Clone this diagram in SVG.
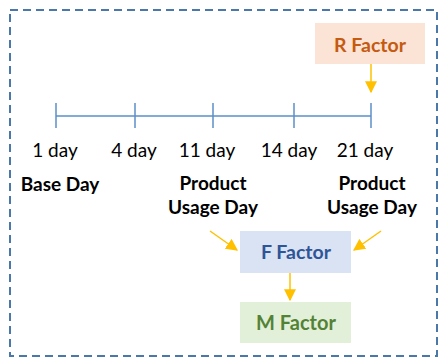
<svg xmlns="http://www.w3.org/2000/svg" width="438" height="358" viewBox="0 0 438 358">
<defs>
<style>
.t{font-family:Lato,"Liberation Sans",Arial,sans-serif;font-size:19px;fill:#000;text-anchor:middle}
.b{font-weight:bold}
.tl{stroke:#5b8fc7;stroke-width:1.5;fill:none}
.ar{stroke:#ffc000;stroke-width:1.5;fill:none;marker-end:url(#ah)}
.f{font-family:Lato,"Liberation Sans",Arial,sans-serif;font-size:19.5px;font-weight:bold;text-anchor:middle}
</style>
<marker id="ah" viewBox="0 0 10 10" refX="9" refY="5" markerWidth="12" markerHeight="12" markerUnits="userSpaceOnUse" orient="auto">
<path d="M0,0 L10,5 L0,10 z" fill="#ffc000"/>
</marker>
</defs>
<rect x="10" y="10" width="427" height="346" fill="none" stroke="#4a78a8" stroke-width="2" stroke-dasharray="8,5"/>
<g id="timeline">
<line class="tl" x1="56" y1="116" x2="371" y2="116"/>
<line class="tl" x1="56" y1="103" x2="56" y2="128"/>
<line class="tl" x1="135" y1="103" x2="135" y2="128"/>
<line class="tl" x1="213" y1="103" x2="213" y2="128"/>
<line class="tl" x1="294" y1="103" x2="294" y2="128"/>
<line class="tl" x1="371" y1="103" x2="371" y2="128"/>
</g>
<g id="labels">
<text class="t" x="55" y="157">1 day</text>
<text class="t" x="134" y="157">4 day</text>
<text class="t" x="207" y="157">11 day</text>
<text class="t" x="289" y="157">14 day</text>
<text class="t" x="365" y="157">21 day</text>
<text class="t b" x="60" y="191">Base Day</text>
<text class="t b" x="213" y="190">Product</text>
<text class="t b" x="213" y="214">Usage Day</text>
<text class="t b" x="372" y="190">Product</text>
<text class="t b" x="372" y="214">Usage Day</text>
</g>
<g id="r-factor">
<rect x="315" y="23" width="110" height="41" fill="#fbe3d6"/>
<text class="f" x="370" y="52" fill="#c55a11">R Factor</text>
</g>
<g id="f-factor">
<rect x="240" y="231" width="111" height="42" fill="#dae3f3"/>
<text class="f" x="296" y="259" fill="#2f5597">F Factor</text>
</g>
<g id="m-factor">
<rect x="240" y="302" width="111" height="41" fill="#e2f0d9"/>
<text class="f" x="296" y="330" fill="#548235" style="font-size:20px">M Factor</text>
</g>
<g id="connectors">
<line class="ar" x1="371" y1="64" x2="371" y2="92"/>
<line class="ar" x1="210" y1="231" x2="237" y2="250"/>
<line class="ar" x1="381" y1="231" x2="354" y2="250"/>
<line class="ar" x1="290" y1="273" x2="290" y2="300"/>
</g>
</svg>
